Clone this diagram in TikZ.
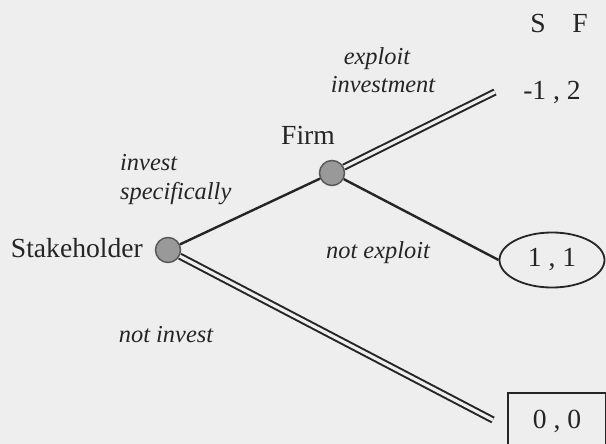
\documentclass[tikz,border=0pt]{standalone}
\usepackage{fontspec}
\setmainfont{Liberation Serif}
\usepackage{tikz}
\usetikzlibrary{positioning,shapes.geometric,calc}
\usepackage{xcolor}
\definecolor{paper}{HTML}{EEEEEE}
\definecolor{ink}{HTML}{252525}
\newcommand{\gamefont}{\fontsize{27.6}{30}\selectfont}
\newcommand{\lbl}{\fontsize{24.4}{27}\selectfont\itshape}

\begin{document}
\begin{tikzpicture}[
  x=1pt,y=-1pt,
  decision/.style={circle, draw=black!65, fill=black!40, line width=1.5pt, minimum size=25pt, inner sep=0pt},
  move/.style={draw=ink, line width=2.4pt},
  best/.style={draw=ink, line width=2pt, double=paper, double distance=3.2pt},
  txt/.style={text=ink, inner sep=0pt, font=\gamefont},
  act/.style={text=ink, inner sep=0pt, font=\lbl}
]
\fill[paper] (0,0) rectangle (606,444);
\useasboundingbox (0,0) rectangle (606,444);

% players
\node[decision] (stake) at (168,250) {};
\node[decision] (firm) at (332,173) {};
\node[txt, anchor=base east] (stakename) at (143,257) {Stakeholder};
\node[txt, anchor=base] (firmname) at (308,145) {Firm};

% payoffs
\node[txt, anchor=base] (sname) at (538,33) {S};
\node[txt, anchor=base] (fname) at (580,33) {F};
\node[txt, anchor=base] (pay1) at (552,100) {-1 , 2};
\node[txt, ellipse, draw=ink, line width=1.8pt, minimum width=105pt, minimum height=55pt] (pay2) at (552,260) {1 , 1};
\node[txt, draw=ink, line width=1.8pt, minimum width=98pt, minimum height=56pt] (pay3) at (557,421) {0 , 0};
\coordinate (end1) at (495,92);
\coordinate (end3) at (493,420);

% moves
\draw[move] (stake) -- (firm);
\draw[move] (firm) -- (pay2.west);
\draw[best] (firm) -- (end1);
\draw[best] (stake) -- (end3);

% move labels
\node[act, anchor=base west] (inv) at (120,171) {invest};
\node[act, anchor=base west] (spec) at (120,200) {specifically};
\node[act, anchor=base] (expl) at (377,65) {exploit};
\node[act, anchor=base] (expl2) at (383,93) {investment};
\node[act, anchor=base] (notexpl) at (378,258) {not exploit};
\node[act, anchor=base] (notinv) at (166,342) {not invest};
\end{tikzpicture}
\end{document}
